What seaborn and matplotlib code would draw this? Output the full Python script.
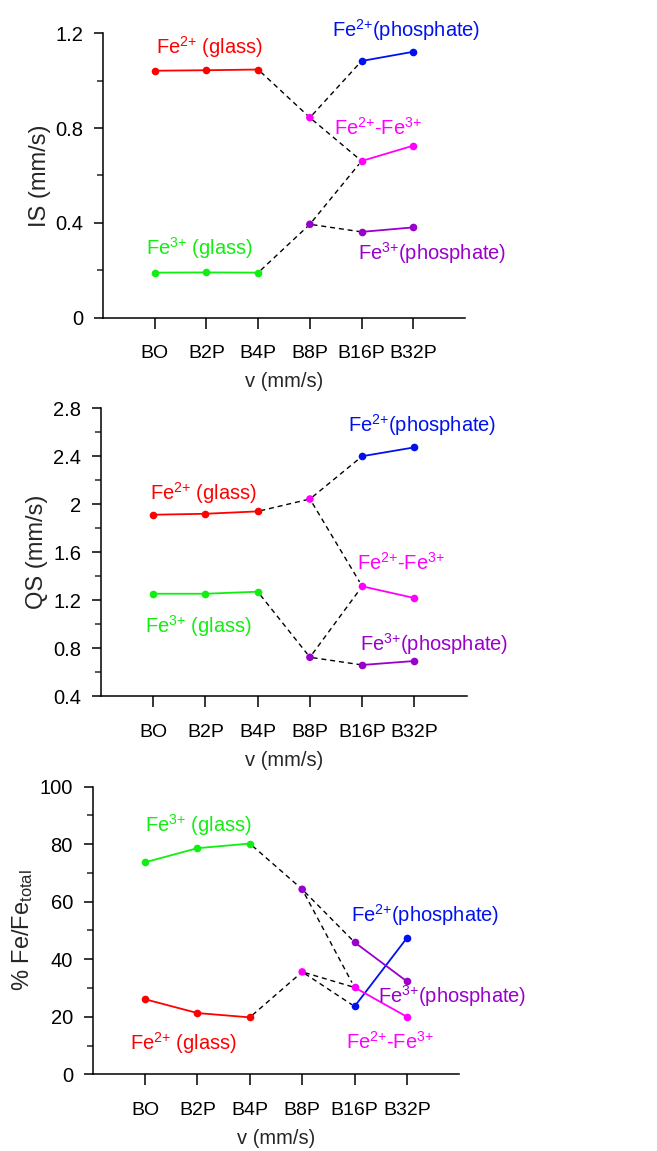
import numpy as np
import pandas as pd
import matplotlib
matplotlib.use('Agg')
import matplotlib.pyplot as plt
import seaborn as sns
from matplotlib import font_manager
from matplotlib.ticker import FixedLocator

# ---------------- data ----------------
samples = ['BO', 'B2P', 'B4P', 'B8P', 'B16P', 'B32P']
glass_samples = ['BO', 'B2P', 'B4P']
phos_samples = ['B16P', 'B32P']

# IS (mm/s)
is_fe2_glass = [1.042, 1.044, 1.047]
is_fe3_glass = [0.190, 0.191, 0.190]
is_b8p_fe2fe3 = 0.844
is_b8p_fe3 = 0.394
is_fe2_phos = [1.083, 1.122]
is_fe2fe3 = [0.661, 0.726]
is_fe3_phos = [0.362, 0.381]

# QS (mm/s)
qs_fe2_glass = [1.912, 1.920, 1.940]
qs_fe3_glass = [1.253, 1.253, 1.270]
qs_b8p_fe2fe3 = 2.043
qs_b8p_fe3 = 0.723
qs_fe2_phos = [2.400, 2.474]
qs_fe2fe3 = [1.315, 1.217]
qs_fe3_phos = [0.659, 0.692]

# % Fe / Fe_total
pc_fe2_glass = [26.1, 21.3, 19.8]
pc_fe3_glass = [73.7, 78.6, 80.2]
pc_b8p_fe2fe3 = 35.6
pc_b8p_fe3 = 64.3
pc_fe2_phos = [23.6, 47.4]
pc_fe2fe3 = [30.2, 20.0]
pc_fe3_phos = [45.9, 32.3]

series_names = ['Fe2+ glass', 'Fe3+ glass', 'Fe2+ phosphate', 'Fe2+-Fe3+', 'Fe3+ phosphate']
series_labels = {
    'Fe2+ glass': r'Fe$^{2{+}}$ (glass)',
    'Fe3+ glass': r'Fe$^{3{+}}$ (glass)',
    'Fe2+ phosphate': r'Fe$^{2{+}}$(phosphate)',
    'Fe2+-Fe3+': r'Fe$^{2{+}}$-Fe$^{3{+}}$',
    'Fe3+ phosphate': r'Fe$^{3{+}}$(phosphate)',
}
colors = {
    'Fe2+ glass': '#ff0000',
    'Fe3+ glass': '#11ee11',
    'Fe2+ phosphate': '#0011ee',
    'Fe2+-Fe3+': '#ff00ff',
    'Fe3+ phosphate': '#9900cc',
}

# dashed connectors (from series, sample) -> (to series, sample)
links = [
    (('Fe2+ glass', 'B4P'), ('Fe2+-Fe3+', 'B8P')),
    (('Fe3+ glass', 'B4P'), ('Fe3+ phosphate', 'B8P')),
    (('Fe2+-Fe3+', 'B8P'), ('Fe2+ phosphate', 'B16P')),
    (('Fe2+-Fe3+', 'B8P'), ('Fe2+-Fe3+', 'B16P')),
    (('Fe3+ phosphate', 'B8P'), ('Fe2+-Fe3+', 'B16P')),
    (('Fe3+ phosphate', 'B8P'), ('Fe3+ phosphate', 'B16P')),
]


def build_df(fe2g, fe3g, b8_23, b8_3, fe2p, f23, fe3p):
    rows = []
    for s, v in zip(glass_samples, fe2g):
        rows.append((s, v, 'Fe2+ glass', 'glass'))
    for s, v in zip(glass_samples, fe3g):
        rows.append((s, v, 'Fe3+ glass', 'glass'))
    rows.append(('B8P', b8_23, 'Fe2+-Fe3+', 'b8p'))
    rows.append(('B8P', b8_3, 'Fe3+ phosphate', 'b8p'))
    for s, v in zip(phos_samples, fe2p):
        rows.append((s, v, 'Fe2+ phosphate', 'phos'))
    for s, v in zip(phos_samples, f23):
        rows.append((s, v, 'Fe2+-Fe3+', 'phos'))
    for s, v in zip(phos_samples, fe3p):
        rows.append((s, v, 'Fe3+ phosphate', 'phos'))
    df = pd.DataFrame(rows, columns=['sample', 'value', 'series', 'segment'])
    df['pos'] = df['sample'].map({s: i for i, s in enumerate(samples)})
    return df


df_is = build_df(is_fe2_glass, is_fe3_glass, is_b8p_fe2fe3, is_b8p_fe3, is_fe2_phos, is_fe2fe3, is_fe3_phos)
df_qs = build_df(qs_fe2_glass, qs_fe3_glass, qs_b8p_fe2fe3, qs_b8p_fe3, qs_fe2_phos, qs_fe2fe3, qs_fe3_phos)
df_pc = build_df(pc_fe2_glass, pc_fe3_glass, pc_b8p_fe2fe3, pc_b8p_fe3, pc_fe2_phos, pc_fe2fe3, pc_fe3_phos)

# ---------------- style ----------------
sns.set_theme(style='ticks')
names = {f.name for f in font_manager.fontManager.ttflist}
narrow = 'Liberation Sans Narrow' in names
main_font = 'Liberation Sans Narrow' if narrow else 'Liberation Sans'
fs = 16 if narrow else 14
plt.rcParams['font.family'] = [main_font, 'DejaVu Sans']
plt.rcParams['mathtext.fontset'] = 'custom'
plt.rcParams['mathtext.rm'] = main_font
plt.rcParams['mathtext.it'] = main_font + ':italic'
plt.rcParams['mathtext.bf'] = main_font + ':bold'
plt.rcParams['axes.linewidth'] = 1.1

fig = plt.figure(figsize=(6.57, 11.51), dpi=100)

panels = [
    dict(df=df_is, rect=[0.1568, 0.7240, 0.5510, 0.2471], ylim=(0, 1.2),
         major=[0, 0.4, 0.8, 1.2], minor=[0.2, 0.6, 1.0],
         ticklabels=['0', '0.4', '0.8', '1.2'], ylabel='IS (mm/s)', ylpad=3,
         text={'Fe2+ glass': (1.05, 1.142), 'Fe2+ phosphate': (4.86, 1.214),
               'Fe2+-Fe3+': (4.32, 0.802), 'Fe3+ glass': (0.87, 0.294),
               'Fe3+ phosphate': (5.37, 0.273)}),
    dict(df=df_qs, rect=[0.1537, 0.3953, 0.5566, 0.2500], ylim=(0.4, 2.8),
         major=[0.4, 0.8, 1.2, 1.6, 2.0, 2.4, 2.8], minor=[0.6, 1.0, 1.4, 1.8, 2.2, 2.6],
         ticklabels=['0.4', '0.8', '1.2', '1.6', '2', '2.4', '2.8'], ylabel='QS (mm/s)', ylpad=4,
         text={'Fe2+ phosphate': (5.15, 2.66), 'Fe2+ glass': (0.96, 2.093),
               'Fe2+-Fe3+': (4.74, 1.509), 'Fe3+ glass': (0.87, 0.986),
               'Fe3+ phosphate': (5.38, 0.834)}),
    dict(df=df_pc, rect=[0.1411, 0.0666, 0.5580, 0.2500], ylim=(0, 100),
         major=[0, 20, 40, 60, 80, 100], minor=[10, 30, 50, 70, 90],
         ticklabels=['0', '20', '40', '60', '80', '100'], ylabel=r'% Fe/Fe$_{\mathrm{total}}$', ylpad=3,
         text={'Fe3+ glass': (1.01, 86.7), 'Fe2+ phosphate': (5.35, 55.4),
               'Fe3+ phosphate': (5.86, 27.2), 'Fe2+ glass': (0.73, 10.9),
               'Fe2+-Fe3+': (4.68, 11.3)}),
]

for p in panels:
    ax = fig.add_axes(p['rect'])
    df = p['df']
    solid = df[df['segment'] != 'b8p']
    b8 = df[df['segment'] == 'b8p']

    # dashed connectors
    lookup = {(r.series, r['sample']): (r.pos, r.value) for _, r in df.iterrows()}
    for (a, b) in links:
        x0, y0 = lookup[a]
        x1, y1 = lookup[b]
        t0, t1 = 0.05, 0.95
        ax.plot([x0 + (x1 - x0) * t0, x0 + (x1 - x0) * t1],
                [y0 + (y1 - y0) * t0, y0 + (y1 - y0) * t1],
                color='black', lw=1.0, dashes=(3.6, 2.8), zorder=1)

    sns.lineplot(data=solid, x='pos', y='value', hue='series', palette=colors,
                 estimator=None, sort=True, marker='o', markersize=5.5,
                 markeredgewidth=0, linewidth=1.3, legend=False, ax=ax, zorder=3)
    sns.scatterplot(data=b8, x='pos', y='value', hue='series', palette=colors,
                    s=30, linewidth=0, legend=False, ax=ax, zorder=3)

    for key, (tx, ty) in p['text'].items():
        ax.text(tx, ty, series_labels[key], color=colors[key], fontsize=fs + 0.5,
                ha='center', va='center', clip_on=False)

    ax.set_xlim(-1, 6)
    ax.set_ylim(*p['ylim'])
    ax.set_xticks(range(len(samples)))
    ax.set_xticklabels(samples)
    ax.yaxis.set_major_locator(FixedLocator(p['major']))
    ax.yaxis.set_minor_locator(FixedLocator(p['minor']))
    ax.set_yticklabels(p['ticklabels'])
    ax.tick_params(axis='x', which='major', direction='out', length=8, width=1.1,
                   pad=12, labelsize=fs, colors='black')
    ax.tick_params(axis='y', which='major', direction='out', length=6.2, width=1.1,
                   pad=8, labelsize=fs + 0.5, colors='black')
    ax.tick_params(axis='y', which='minor', direction='out', length=4, width=1.1)
    ax.set_xlabel('v (mm/s)', fontsize=fs + 0.5, labelpad=7)
    ax.set_ylabel(p['ylabel'], fontsize=17, family=['Liberation Sans', 'DejaVu Sans'],
                  labelpad=p['ylpad'])
    for side in ['top', 'right']:
        ax.spines[side].set_visible(False)
    ax.spines['left'].set_color('black')
    ax.spines['bottom'].set_color('black')

fig.savefig('out.png', dpi=100)
